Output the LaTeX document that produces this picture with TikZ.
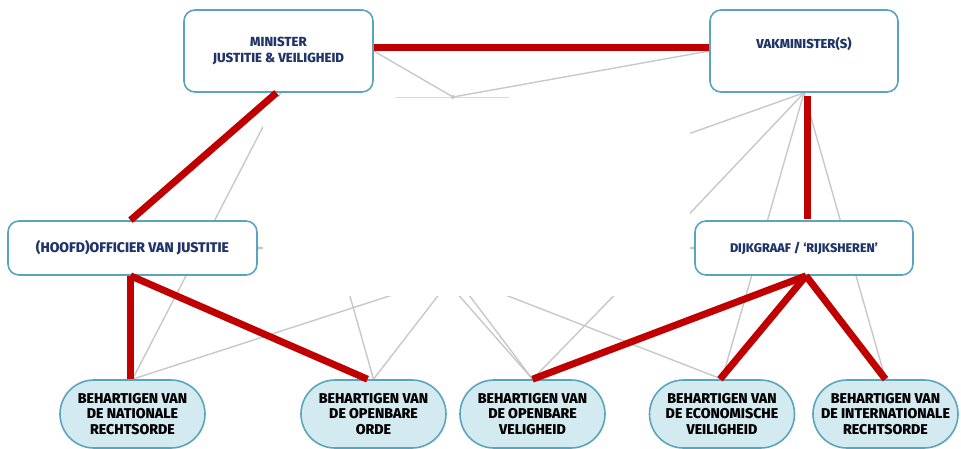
\documentclass[tikz,border=0pt]{standalone}
\usepackage{fontspec}
\setmainfont{Fira Sans}[BoldFont={Fira Sans ExtraBold}]
\usetikzlibrary{shapes.misc,backgrounds}
\definecolor{redc}{HTML}{C00000}
\definecolor{grayc}{HTML}{C8C8C8}
\definecolor{boxc}{HTML}{5AA5BE}
\definecolor{navy}{HTML}{1F3468}
\definecolor{pillc}{HTML}{D3EAF0}
\definecolor{faintc}{HTML}{C9DDE6}
\begin{document}
\begin{tikzpicture}[x=1pt,y=-1pt,
  box/.style={draw=boxc, line width=1.6pt, fill=white, rounded corners=11pt, inner sep=0pt,
    font=\bfseries\fontsize{13.2}{16}\selectfont, text=navy, align=center},
  toptext/.style={font=\bfseries\fontsize{13}{16}\selectfont, text=navy, inner sep=0pt},
  pill/.style={draw=boxc, line width=1.6pt, fill=pillc, rounded rectangle, inner sep=0pt,
    minimum width=145pt, minimum height=68pt,
    font=\bfseries\fontsize{14.2}{15.8}\selectfont, text=black, align=center},
  redline/.style={draw=redc, line width=7pt},
  grayline/.style={draw=grayc, line width=1.4pt},
  graydot/.style={fill=grayc, circle, inner sep=0pt, minimum size=4pt},
  cover/.style={fill=white, draw=none}
]
\useasboundingbox (0,0) rectangle (961,448);

% main nodes
\node[box, minimum width=189pt, minimum height=82pt] (mjv) at (278.5,51) {MINISTER\\JUSTITIE \& VEILIGHEID};
\node[box, minimum width=188pt, minimum height=82pt] (vak) at (804,51) {};
\node[toptext] (vakt) at (804,44) {VAKMINISTER(S)};
\node[box, minimum width=249pt, minimum height=54pt, font=\bfseries\fontsize{14}{16}\selectfont] (ovj) at (132.5,248) {(HOOFD)OFFICIER VAN JUSTITIE};
\node[box, minimum width=218pt, minimum height=54pt, font=\bfseries\fontsize{12.6}{16}\selectfont] (dijk) at (804,248) {DIJKGRAAF / ‘RIJKSHEREN’};

\node[pill] (b1) at (132.5,414) {BEHARTIGEN VAN\\DE NATIONALE\\RECHTSORDE};
\node[pill] (b2) at (373.5,414) {BEHARTIGEN VAN\\DE OPENBARE\\ORDE};
\node[pill] (b3) at (532.5,414) {BEHARTIGEN VAN\\DE OPENBARE\\VELIGHEID};
\node[pill] (b4) at (722,414) {BEHARTIGEN VAN\\DE ECONOMISCHE\\VEILIGHEID};
\node[pill] (b5) at (885.5,414) {BEHARTIGEN VAN\\DE INTERNATIONALE\\RECHTSORDE};

% hidden end points
\coordinate (ht) at (453,97);
\coordinate (hb) at (454,275);
\coordinate (hl) at (290,248);
\coordinate (hr) at (660,248);
\coordinate (h2) at (344,275);
\coordinate (h3) at (441,275);
\coordinate (h4) at (634,275);
\coordinate (v1) at (660,144);
\coordinate (v2) at (660,245);
\coordinate (ms) at (281,92);

\begin{pgfonlayer}{background}
  \draw[grayline] (mjv.east) -- (ht);
  \draw[grayline] (vak.west) -- (ht);
  \draw[grayline] (b1.north) -- (ms);
  \draw[grayline] (b1.north) -- (hb);
  \draw[grayline] (b2.north) -- (h2);
  \draw[grayline] (b2.north) -- (hb);
  \draw[grayline] (b3.north) -- (h3);
  \draw[grayline] (b3.north) -- (hb);
  \draw[grayline] (b3.north) -- (h4);
  \draw[grayline] (b4.north) -- (hb);
  \draw[grayline] (b4.north) -- (vak.south);
  \draw[grayline] (b5.north) -- (vak.south);
  \draw[grayline] (vak.south) -- (v1);
  \draw[grayline] (vak.south) -- (v2);
  \draw[grayline] (ovj.east) -- (hl);
  \draw[grayline] (dijk.west) -- (hr);
  \fill[cover] (263,97) rectangle (690,296);
  \draw[faintc, line width=0.8pt] (396,97.5) -- (509,97.5);
  \node[graydot] (d1) at (ovj.east) {};
  \node[graydot] (d2) at (dijk.west) {};
  \node[graydot] (d3) at (vak.south) {};
  \node[graydot] (d4) at (ht) {};
\end{pgfonlayer}

% red lines
\draw[redline] ([yshift=4pt]mjv.east) -- ([yshift=4pt]vak.west);
\draw[redline] ([xshift=-2pt]mjv.south) -- ([xshift=-2pt]ovj.north);
\draw[redline] ([xshift=3pt,yshift=-3pt]vak.south) -- ([xshift=3pt,yshift=1pt]dijk.north);
\draw[redline] ([xshift=-2pt]ovj.south) -- ([xshift=-2pt]b1.north);
\draw[redline] ([xshift=-2pt]ovj.south) -- ([xshift=-6pt]b2.north);
\draw[redline] ([xshift=2pt]dijk.south) -- (b3.north);
\draw[redline] ([xshift=2pt]dijk.south) -- ([xshift=-2pt]b4.north);
\draw[redline] ([xshift=2pt]dijk.south) -- (b5.north);
\end{tikzpicture}
\end{document}
